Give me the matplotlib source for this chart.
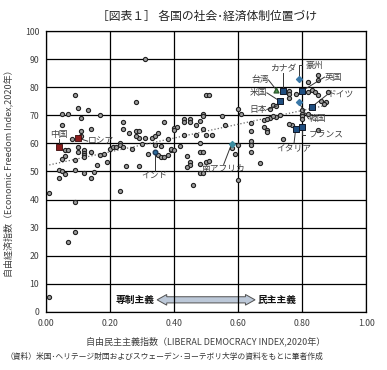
import matplotlib
matplotlib.use("Agg")
import matplotlib.pyplot as plt
import matplotlib.patches as mpatches
import numpy as np

plt.rcParams['font.family'] = ['Noto Sans CJK JP', 'DejaVu Sans']

# other countries (liberal democracy index, economic freedom index)
dem_x = [0.01, 0.01, 0.07, 0.09, 0.09, 0.23,
         0.09, 0.10, 0.13, 0.05, 0.07, 0.17, 0.11, 0.05, 0.14, 0.11,
         0.08, 0.11, 0.06, 0.07, 0.06, 0.05, 0.10, 0.12, 0.12, 0.12, 0.14, 0.10, 0.09, 0.12,
         0.17, 0.18, 0.19, 0.16, 0.20, 0.21, 0.22, 0.23, 0.23,
         0.04, 0.05, 0.06, 0.09, 0.12, 0.15, 0.14, 0.04,
         0.28, 0.31, 0.24, 0.24, 0.26, 0.28, 0.29, 0.29, 0.28, 0.31, 0.33, 0.34, 0.35, 0.37,
         0.38, 0.40, 0.41, 0.40, 0.43, 0.43, 0.45, 0.45, 0.47, 0.48, 0.49, 0.43, 0.47, 0.30,
         0.27, 0.24, 0.32, 0.34, 0.36, 0.35, 0.36, 0.37, 0.38, 0.39, 0.39, 0.40, 0.42, 0.44,
         0.45, 0.45, 0.44, 0.48, 0.48, 0.48, 0.46, 0.25, 0.29,
         0.50, 0.51, 0.49, 0.49, 0.55, 0.56, 0.50, 0.52, 0.60, 0.61, 0.64, 0.64, 0.68, 0.69,
         0.69, 0.72, 0.73, 0.70, 0.71, 0.71, 0.49, 0.50, 0.51, 0.49, 0.58, 0.60, 0.59, 0.64,
         0.64, 0.64, 0.67, 0.60, 0.74, 0.48,
         0.82, 0.85, 0.85, 0.88, 0.83, 0.84, 0.85, 0.82, 0.86, 0.875, 0.87, 0.80, 0.80, 0.80,
         0.80, 0.85, 0.77, 0.76, 0.76, 0.76, 0.78, 0.70, 0.72, 0.68, 0.69, 0.82, 0.76]
econ_y = [42.5, 5.2, 24.9, 28.3, 39.3, 43.0,
          77.3, 72.5, 71.8, 70.4, 70.5, 70.1, 69.0, 66.4, 65.3, 64.4,
          61.5, 62.6, 57.6, 57.6, 55.6, 54.6, 58.7, 57.6, 56.7, 55.8, 56.8, 56.8, 54.2, 55.0,
          56.0, 56.4, 53.5, 52.3, 58.1, 58.6, 58.8, 60.1, 59.3,
          50.4, 50.1, 49.2, 50.7, 49.3, 49.9, 47.6, 47.7,
          74.9, 90.2, 67.6, 65.0, 63.7, 64.4, 64.4, 61.9, 62.5, 62.0, 61.9, 62.5, 63.7, 67.6,
          61.4, 65.5, 66.0, 64.8, 68.8, 67.6, 68.8, 67.7, 66.5, 68.1, 65.0, 62.9, 62.9, 59.9,
          58.1, 58.8, 56.3, 59.3, 59.2, 55.7, 55.0, 55.2, 56.0, 57.6, 57.9, 57.8, 59.2, 55.5,
          53.5, 52.3, 51.7, 56.8, 52.7, 49.5, 45.1, 52.1, 52.0,
          77.4, 77.4, 70.6, 69.7, 69.9, 66.5, 62.9, 62.9, 72.3, 70.6, 67.1, 64.3, 65.8, 64.6,
          64.0, 69.4, 70.1, 69.0, 69.8, 73.8, 56.8, 53.5, 53.7, 49.3, 58.5, 59.5, 56.3, 60.8,
          59.4, 56.9, 53.0, 46.8, 61.4, 60.0,
          81.7, 84.3, 82.6, 78.3, 79.0, 78.3, 77.3, 78.3, 75.0, 74.8, 73.9, 72.0, 70.4, 69.8,
          68.6, 64.6, 66.5, 78.7, 77.5, 76.3, 77.5, 72.1, 73.3, 68.3, 68.6, 70.6, 66.8]

# highlighted countries
red_names = ["中国", "ロシア"]
red_x = [0.04, 0.10]
red_y = [58.8, 61.9]

navy_names = ["カナダ", "米国", "英国", "ドイツ", "イタリア", "フランス"]
navy_x = [0.74, 0.73, 0.80, 0.83, 0.78, 0.80]
navy_y = [78.5, 75.1, 78.7, 73.0, 65.2, 65.9]

blue_names = ["豪州", "韓国"]
blue_x = [0.79, 0.79]
blue_y = [82.8, 74.6]

india_x, india_y = 0.34, 56.8
safrica_x, safrica_y = 0.58, 59.9
taiwan_x, taiwan_y = 0.72, 79.0
japan_x, japan_y = 0.72, 73.3

all_x = dem_x + red_x + navy_x + blue_x + [india_x, safrica_x, taiwan_x]
all_y = econ_y + red_y + navy_y + blue_y + [india_y, safrica_y, taiwan_y]

fig = plt.figure(figsize=(3.87, 3.70), dpi=100)
ax = fig.add_axes([0.119, 0.157, 0.827, 0.759])

# trend line
coef = np.polyfit(all_x, all_y, 1)
tx = np.array([0.01, 0.88])
ax.plot(tx, np.polyval(coef, tx), linestyle=":", color="#666666", lw=0.9, zorder=2)

ax.scatter(dem_x, econ_y, s=9, facecolor="#9a9a9a", edgecolor="#222222", linewidth=0.8, zorder=3)
ax.scatter(red_x, red_y, s=13, marker="s", facecolor="#8b1c1c", edgecolor="#3a0a0a", linewidth=0.6, zorder=4)
ax.scatter(navy_x, navy_y, s=17, marker="s", facecolor="#1f4e80", edgecolor="#101828", linewidth=0.7, zorder=4)
ax.scatter(blue_x, blue_y, s=9, marker="D", facecolor="#3a78a8", edgecolor="#3a78a8", zorder=4)
ax.scatter([india_x], [india_y], s=11, marker="o", facecolor="#2f6c9c", edgecolor="#1a3a5a", zorder=4)
ax.scatter([safrica_x], [safrica_y], s=9, marker="D", facecolor="#3b8ca0", edgecolor="#3b8ca0", zorder=4)
ax.scatter([taiwan_x], [taiwan_y], s=12, marker="^", facecolor="#4e9a4e", edgecolor="#2e5a2e", zorder=4)

lab = dict(fontsize=6.3, color="#404040", zorder=5)
line = dict(color="#333333", lw=0.7, zorder=3)

def tag(text, px, py, lx, ly, ha="left", va="center"):
    ax.plot([px, lx], [py, ly], **line)
    ax.text(lx, ly, text, ha=ha, va=va, **lab)

tag("中国", red_x[0], red_y[0], 0.04, 61.5, ha="center", va="bottom")
tag("ロシア", red_x[1], red_y[1], 0.13, 60.8)
tag("インド", india_x, india_y, 0.34, 50.2, ha="center", va="top")
tag("南アフリカ", safrica_x, safrica_y, 0.555, 52.5, ha="center", va="top")
tag("台湾", taiwan_x, taiwan_y, 0.695, 82.6, ha="right")
tag("カナダ", navy_x[0], navy_y[0], 0.74, 85.0, ha="center", va="bottom")
tag("米国", navy_x[1], navy_y[1], 0.69, 78.0, ha="right")
tag("日本", japan_x, japan_y, 0.69, 72.1, ha="right")
ax.plot([blue_x[0], blue_x[0], 0.80], [blue_y[0], 87.9, 87.9], **line)
ax.text(0.81, 87.9, "豪州", ha="left", va="center", **lab)
tag("英国", navy_x[2], navy_y[2], 0.87, 83.6)
tag("ドイツ", navy_x[3], navy_y[3], 0.88, 77.5)
tag("韓国", blue_x[1], blue_y[1], 0.82, 68.8)
ax.plot([navy_x[5], navy_x[5], 0.81], [navy_y[5], 62.9, 62.9], **line)
ax.text(0.82, 62.9, "フランス", ha="left", va="center", **lab)
tag("イタリア", navy_x[4], navy_y[4], 0.775, 60.2, ha="center", va="top")

# regime arrow
yc, hl, hh, bh = 4.3, 0.03, 1.9, 1.1
x0, x1 = 0.347, 0.653
arrow = mpatches.Polygon([(x0, yc), (x0 + hl, yc + hh), (x0 + hl, yc + bh), (x1 - hl, yc + bh),
                          (x1 - hl, yc + hh), (x1, yc), (x1 - hl, yc - hh), (x1 - hl, yc - bh),
                          (x0 + hl, yc - bh), (x0 + hl, yc - hh)],
                         closed=True, facecolor="#bcc8d8", edgecolor="#505050", lw=0.7, zorder=0.4)
ax.add_patch(arrow)
ax.text(0.338, yc, "専制主義", ha="right", va="center", fontsize=7, fontweight="bold", color="#111111")
ax.text(0.662, yc, "民主主義", ha="left", va="center", fontsize=7, fontweight="bold", color="#111111")

ax.set_xlim(0, 1)
ax.set_ylim(0, 100)
ax.set_xticks(np.arange(0, 1.01, 0.2))
ax.set_xticklabels(["%.2f" % v for v in np.arange(0, 1.01, 0.2)])
ax.set_yticks(np.arange(0, 101, 10))
ax.tick_params(length=0, labelsize=6.3, labelcolor="#404040", pad=5)
ax.grid(True, color="black", lw=0.9)
for s in ax.spines.values():
    s.set_color("black")
    s.set_linewidth(0.9)

ax.set_xlabel("自由民主主義指数（LIBERAL DEMOCRACY INDEX,2020年）", fontsize=6.5, color="#404040", labelpad=6)
ax.set_ylabel("自由経済指数（Economic Freedom Index,2020年）", fontsize=6.5, color="#404040", labelpad=8)
fig.text(0.535, 0.955, "［図表１］ 各国の社会･経済体制位置づけ", ha="center", va="center", fontsize=8.5, color="#222222")
fig.text(0.015, 0.035, "（資料）米国･ヘリテージ財団およびスウェーデン･ヨーテボリ大学の資料をもとに筆者作成",
         ha="left", va="center", fontsize=5.6, color="#333333")

fig.savefig("out.png", dpi=100)
